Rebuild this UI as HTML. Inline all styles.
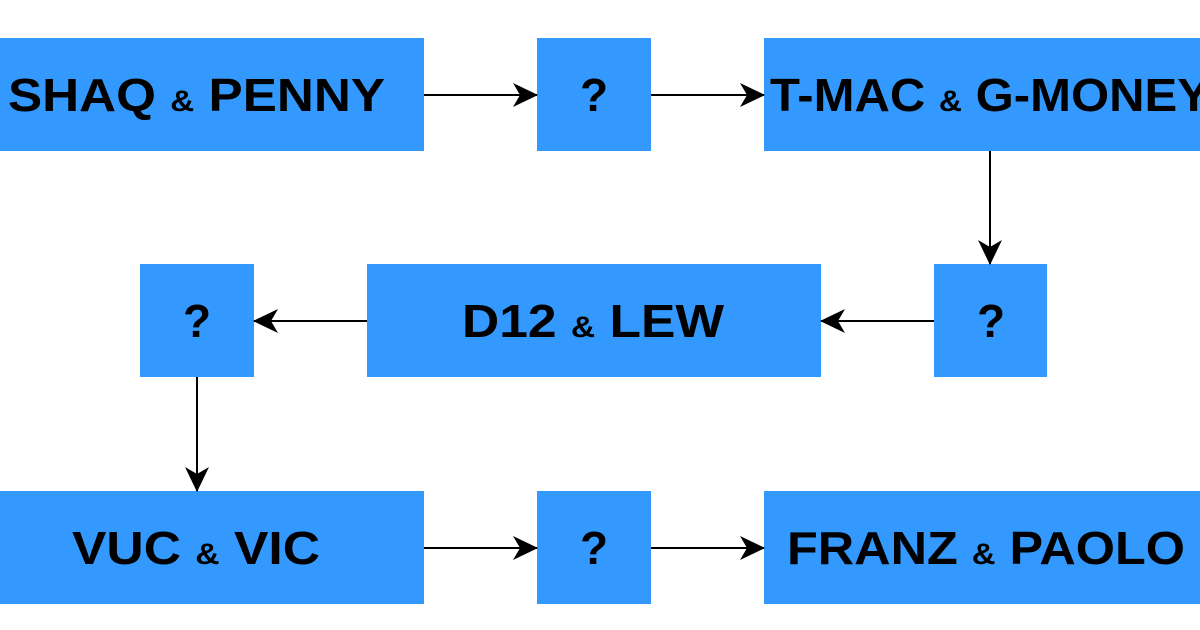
<!DOCTYPE html>
<html><head><style>
html,body{margin:0;padding:0;background:#fff;}
svg{display:block;}
text{font-family:"Liberation Sans",Arial,sans-serif;font-weight:bold;fill:#000;}
</style></head><body>
<svg width="1200" height="630" viewBox="0 0 1200 630" xmlns="http://www.w3.org/2000/svg">
<defs>
<marker id="a" viewBox="0 0 25 26" refX="24" refY="13" markerWidth="25" markerHeight="26" markerUnits="userSpaceOnUse" orient="auto">
<path d="M0,1 L25,13 L0,25 L7,13 Z" fill="#000"/>
</marker>
</defs>
<g fill="#3399ff">
<rect x="0" y="38" width="424" height="113"/>
<rect x="537" y="38" width="114" height="113"/>
<rect x="764" y="38" width="436" height="113"/>
<rect x="140" y="264" width="114" height="113"/>
<rect x="367" y="264" width="454" height="113"/>
<rect x="934" y="264" width="113" height="113"/>
<rect x="0" y="491" width="424" height="113"/>
<rect x="537" y="491" width="114" height="113"/>
<rect x="764" y="491" width="436" height="113"/>
</g>
<g stroke="#000" stroke-width="2" fill="none" marker-end="url(#a)">
<line x1="424" y1="95" x2="537" y2="95"/>
<line x1="651" y1="95" x2="764" y2="95"/>
<line x1="990" y1="151" x2="990" y2="264"/>
<line x1="934" y1="321" x2="821" y2="321"/>
<line x1="367" y1="321" x2="254" y2="321"/>
<line x1="197" y1="377" x2="197" y2="491"/>
<line x1="424" y1="548" x2="537" y2="548"/>
<line x1="651" y1="548" x2="764" y2="548"/>
</g>
<g font-size="46">
<text x="8" y="111" textLength="377" lengthAdjust="spacingAndGlyphs">SHAQ <tspan font-size="30">&amp;</tspan> PENNY</text>
<text x="580" y="111">?</text>
<text x="770" y="111" textLength="440" lengthAdjust="spacingAndGlyphs">T-MAC <tspan font-size="30">&amp;</tspan> G-MONEY</text>
<text x="183" y="337">?</text>
<text x="462" y="337" textLength="262" lengthAdjust="spacingAndGlyphs">D12 <tspan font-size="30">&amp;</tspan> LEW</text>
<text x="977" y="337">?</text>
<text x="72" y="564" textLength="248" lengthAdjust="spacingAndGlyphs">VUC <tspan font-size="30">&amp;</tspan> VIC</text>
<text x="580" y="564">?</text>
<text x="787" y="564" textLength="398" lengthAdjust="spacingAndGlyphs">FRANZ <tspan font-size="30">&amp;</tspan> PAOLO</text>
</g>
</svg>
</body></html>
